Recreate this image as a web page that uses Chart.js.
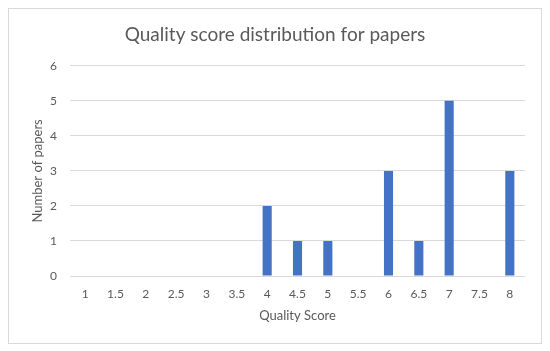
<!DOCTYPE html>
<html>
<head>
<meta charset="utf-8">
<script src="https://cdn.jsdelivr.net/npm/chart.js@4.4.0/dist/chart.umd.min.js"></script>
<style>
  html, body { margin: 0; padding: 0; background: #ffffff; }
  #wrap { position: relative; width: 550px; height: 351px; }
  #frame { position: absolute; left: 8px; top: 8px; width: 532px; height: 334px; border: 1px solid #d9d9d9; }
  canvas { position: absolute; left: 0; top: 0; }
</style>
</head>
<body>
<div id="wrap">
  <div id="frame"></div>
  <canvas id="c" width="550" height="351"></canvas>
</div>
<script>
const categories = ["1", "1.5", "2", "2.5", "3", "3.5", "4", "4.5", "5", "5.5", "6", "6.5", "7", "7.5", "8"];
const paperCounts = [0, 0, 0, 0, 0, 0, 2, 1, 1, 0, 3, 1, 5, 0, 3];
const yTicks = [0, 1, 2, 3, 4, 5, 6];

const textColor = '#595959';
const fontFamily = "Lato, 'Open Sans', sans-serif";

new Chart(document.getElementById('c'), {
  type: 'bar',
  data: {
    labels: categories,
    datasets: [{
      label: 'Number of papers',
      data: paperCounts,
      backgroundColor: '#4472c4',
      borderWidth: 0,
      barPercentage: 0.3,
      categoryPercentage: 1.0
    }]
  },
  options: {
    responsive: false,
    animation: false,
    devicePixelRatio: 1,
    layout: { padding: { left: 25, right: 25, top: 0, bottom: 8 } },
    plugins: {
      legend: { display: false },
      tooltip: { enabled: false },
      title: {
        display: true,
        text: 'Quality score distribution for papers',
        color: textColor,
        font: { family: fontFamily, size: 19, weight: 'normal' },
        padding: { top: 23, bottom: 20 }
      }
    },
    scales: {
      x: {
        grid: { display: false, drawTicks: false },
        border: { display: false },
        ticks: { color: textColor, font: { family: fontFamily, size: 12 }, padding: 11, maxRotation: 0, autoSkip: false },
        title: { display: true, text: 'Quality Score', color: textColor, font: { family: fontFamily, size: 13 }, padding: { top: 6, bottom: 19 } },
        afterFit: (s) => { s.height = 351 - 276 - 8; }
      },
      y: {
        min: 0,
        max: 6,
        afterBuildTicks: (s) => { s.ticks = yTicks.map(v => ({ value: v })); },
        grid: { color: '#d9d9d9', lineWidth: 1, drawTicks: false },
        border: { display: false },
        ticks: { color: textColor, font: { family: fontFamily, size: 12 }, padding: 13 },
        title: { display: true, text: 'Number of papers', color: textColor, font: { family: fontFamily, size: 13 }, padding: { top: 5, bottom: 0 } },
        afterFit: (s) => { s.width = 70 - 25; }
      }
    }
  }
});
</script>
</body>
</html>
